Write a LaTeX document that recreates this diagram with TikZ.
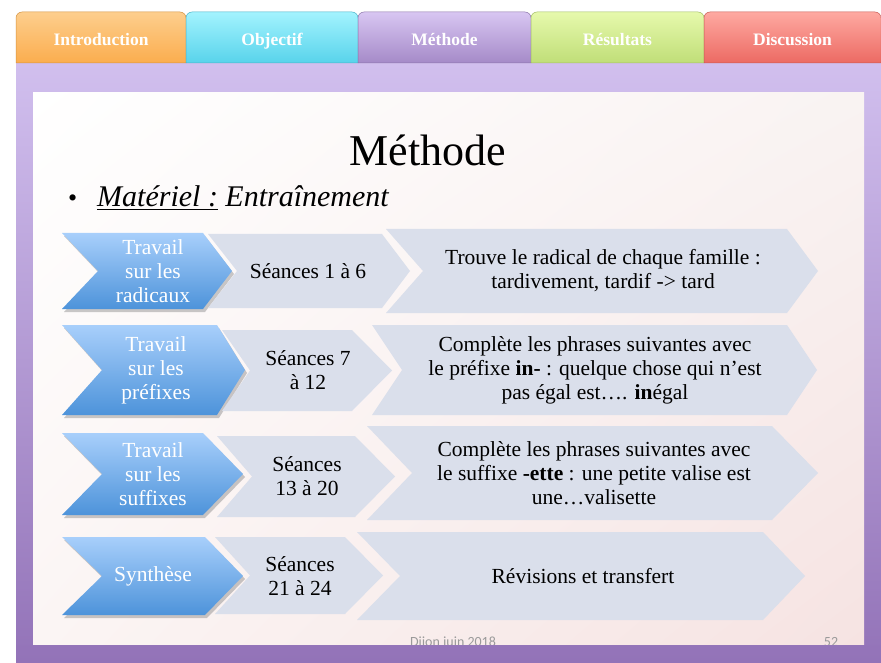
\documentclass[tikz,border=0pt]{standalone}
\usepackage{fontspec}
\setmainfont{Liberation Serif}
\newfontfamily\calib{Carlito}
\usetikzlibrary{shadows,shadings}
\definecolor{chevgrey}{HTML}{DADFEB}
\definecolor{blueT}{HTML}{A8CFFB}
\definecolor{blueB}{HTML}{4D93DA}
\definecolor{purT}{HTML}{D1BFEE}
\definecolor{purB}{HTML}{9373B8}
\definecolor{footgrey}{HTML}{9A9A9A}
\definecolor{cUR}{HTML}{F9F3F2}
\definecolor{cLL}{HTML}{FBF5F4}
\definecolor{cLR}{HTML}{F6E3E2}
\definecolor{inT}{HTML}{FDCE8D}\definecolor{inB}{HTML}{FBAD4E}
\definecolor{obT}{HTML}{A3F3FE}\definecolor{obB}{HTML}{58D3EB}
\definecolor{meT}{HTML}{D8C6F2}\definecolor{meB}{HTML}{A58AC8}
\definecolor{reT}{HTML}{E6F9AC}\definecolor{reB}{HTML}{C0DE78}
\definecolor{diT}{HTML}{FEA9A1}\definecolor{diB}{HTML}{EC6A63}
\newcommand\chevshape[7]{%
  \path[#1] (#2,#6) -- (#4,#6) -- (#5,{(#6+#7)/2}) -- (#4,#7) -- (#2,#7) -- (#3,{(#6+#7)/2}) -- cycle;}
\newcommand\tabshape[5]{%
  \shade[top color=#4, bottom color=#5, draw=#5!85!black, line width=0.5pt]
    (#1,63) [rounded corners=6pt] -- (#1,12) -- (#2,12) [sharp corners] -- (#2,63) -- cycle;
  \node[tabtext, anchor=base] (#3) at ({(#1+#2)/2},46) {#3};}
\tikzset{
  bluechev/.style={top color=blueT, bottom color=blueB,
    drop shadow={shadow xshift=2pt, shadow yshift=-3pt, opacity=.35, fill=black!60}},
  greychev/.style={fill=chevgrey},
  bluetext/.style={text=white, align=center, inner sep=0pt, font=\fontsize{21.5}{24}\selectfont},
  greytext/.style={text=black, align=center, inner sep=0pt, font=\fontsize{21.5}{24}\selectfont},
  tabtext/.style={text=white, inner sep=0pt, font=\fontsize{17.5}{20}\selectfont\bfseries},
}
\begin{document}
\begin{tikzpicture}[x=1pt,y=-1pt]
\useasboundingbox (0,0) rectangle (881,663);
\fill[white] (0,0) rectangle (881,663);
% purple frame
\shade[top color=purT, bottom color=purB] (16,63) rectangle (881,663);
% content area
\shade[upper left=white, upper right=cUR, lower left=cLL, lower right=cLR]
  (33,93) rectangle (864,645);
% tabs
\tabshape{16}{186}{Introduction}{inT}{inB}
\tabshape{186}{358}{Objectif}{obT}{obB}
\tabshape{358}{531}{Méthode}{meT}{meB}
\tabshape{531}{704}{Résultats}{reT}{reB}
\tabshape{704}{881}{Discussion}{diT}{diB}
% title
\node[font=\fontsize{44}{48}\selectfont, inner sep=0pt] (title) at (428,150) {Méthode};
\node[anchor=base west, inner sep=0pt, font=\fontsize{26}{28}\selectfont] (bullet) at (68,207) {•};
\node[anchor=base west, inner sep=0pt, font=\fontsize{30}{32}\selectfont\itshape] (mat) at (97,207)
  {\underline{Matériel :} Entraînement};
% row 1
\chevshape{bluechev}{62}{98}{203}{232}{233}{309}
\chevshape{greychev}{208}{237}{382}{410}{234}{308}
\chevshape{greychev}{386}{423}{787}{818}{229}{313}
\node[bluetext] (b1) at (153,271) {Travail\\sur les\\radicaux};
\node[greytext] (g1) at (308,271) {Séances 1 à 6};
\node[greytext] (t1) at (603,271) {Trouve le radical de chaque famille :\\tardivement, tardif -> tard};
% row 2
\chevshape{bluechev}{62}{102}{217}{245}{325}{415}
\chevshape{greychev}{222}{250}{352}{392}{330}{411}
\chevshape{greychev}{372}{402}{787}{817}{325}{415}
\node[bluetext] (b2) at (156,370) {Travail\\sur les\\préfixes};
\node[greytext] (g2) at (308,370) {Séances 7\\à 12};
\node[greytext] (t2) at (595,370) {Complète les phrases suivantes avec\\le préfixe \textbf{in-} : quelque chose qui n’est\\pas égal est…. \textbf{in}égal};
% row 3
\chevshape{bluechev}{62}{102}{203}{243}{433}{515}
\chevshape{greychev}{217}{252}{355}{395}{436}{517}
\chevshape{greychev}{367}{412}{772}{818}{426}{520}
\node[bluetext] (b3) at (153,474) {Travail\\sur les\\suffixes};
\node[greytext] (g3) at (307,476) {Séances\\13 à 20};
\node[greytext] (t3) at (594,473) {Complète les phrases suivantes avec\\le suffixe \textbf{-ette} : une petite valise est\\une…valisette};
% row 4
\chevshape{bluechev}{62}{102}{205}{243}{537}{615}
\chevshape{greychev}{215}{250}{345}{383}{537}{614}
\chevshape{greychev}{357}{400}{763}{805}{532}{620}
\node[bluetext] (b4) at (153,576) {Synthèse};
\node[greytext] (g4) at (300,576) {Séances\\21 à 24};
\node[greytext] (t4) at (583,576) {Révisions et transfert};
% footer
\node[anchor=base, inner sep=0pt, text=footgrey, font=\calib\fontsize{14}{16}\selectfont] (foot) at (453,646) {Dijon juin 2018};
\node[anchor=base, inner sep=0pt, text=footgrey, font=\calib\fontsize{14}{16}\selectfont] (page) at (831,646) {52};
\shade[top color=purB!98!purT, bottom color=purB] (16,645) rectangle (881,663);
\end{tikzpicture}
\end{document}
